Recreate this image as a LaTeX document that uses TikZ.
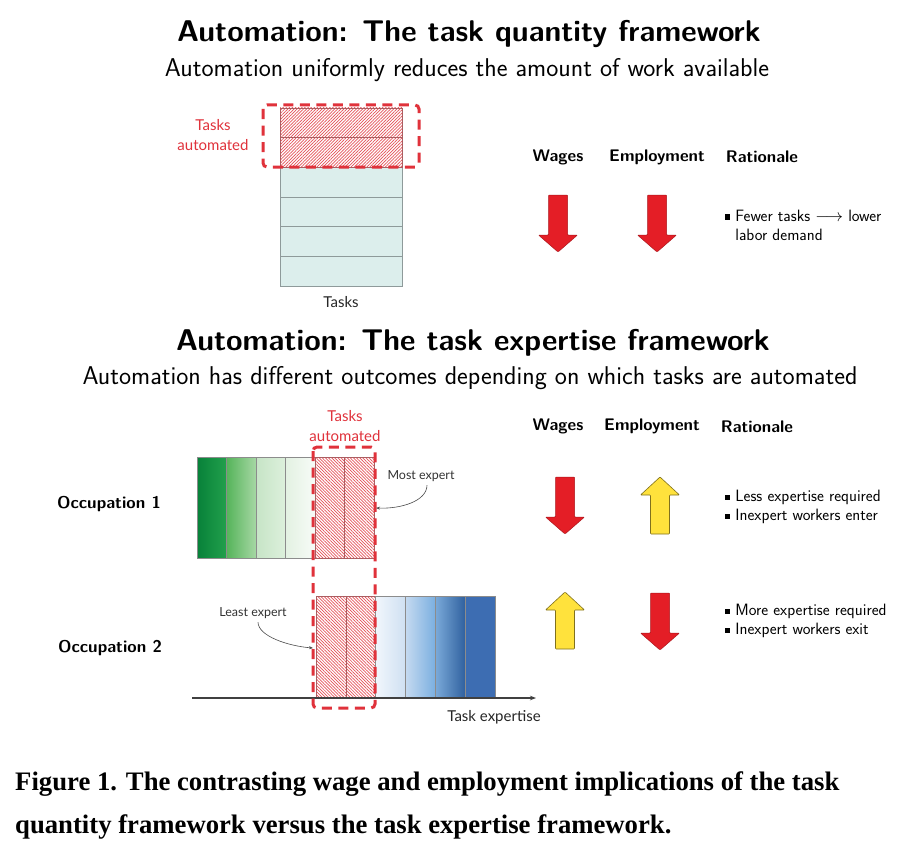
\documentclass[tikz,border=0pt]{standalone}
\usepackage{amsmath}
\usepackage{fontspec}
\newfontfamily\labelfont{Lato}
\newfontfamily\capfont{Liberation Serif}
\usetikzlibrary{arrows.meta}
\usetikzlibrary{patterns.meta}
\usetikzlibrary{positioning}

\definecolor{autored}{HTML}{E0323B}
\definecolor{arrowred}{HTML}{E41E26}
\definecolor{arrowyellow}{HTML}{FFE23C}
\definecolor{taskteal}{HTML}{DCEEEC}
\definecolor{cellgray}{HTML}{8E9A9A}
\definecolor{grnA}{HTML}{078139}
\definecolor{grnB}{HTML}{22A04C}
\definecolor{grnC}{HTML}{55B45A}
\definecolor{grnD}{HTML}{A6D7A4}
\definecolor{grnE}{HTML}{C6E4C6}
\definecolor{grnF}{HTML}{DDF0DC}
\definecolor{grnG}{HTML}{E3F1E2}
\definecolor{grnH}{HTML}{F7FBF7}
\definecolor{bluA}{HTML}{F1F6FC}
\definecolor{bluB}{HTML}{CFE0F2}
\definecolor{bluC}{HTML}{C5DAF0}
\definecolor{bluD}{HTML}{7BAFE0}
\definecolor{bluE}{HTML}{7BAAD9}
\definecolor{bluF}{HTML}{30619F}
\definecolor{bluG}{HTML}{3D6DB2}

\newcommand{\sqbul}{\rule[0.22ex]{0.32em}{0.32em}\hspace{0.3em}}

\tikzset{
	title/.style={font=\sffamily\bfseries\fontsize{30}{34}\selectfont},
	subtitle/.style={font=\sffamily\fontsize{25.7}{29}\selectfont},
	header/.style={font=\sffamily\bfseries\fontsize{16.8}{19}\selectfont},
	reason/.style={font=\sffamily\fontsize{16.4}{19}\selectfont, align=left, anchor=west, inner sep=0},
	small/.style={font=\labelfont\fontsize{12.5}{15}\selectfont, text=black!80},
	bigsmall/.style={font=\labelfont\fontsize{15}{17}\selectfont, text=black!85},
	redlabel/.style={font=\labelfont\fontsize{15}{19.5}\selectfont, text=autored, align=center},
	occ/.style={font=\sffamily\bfseries\fontsize{17}{20}\selectfont},
	taskcell/.style={draw=cellgray, fill=taskteal, line width=0.8},
	upcell/.style={draw=autored!45!gray, line width=0.6,
		pattern={Lines[angle=45,distance=2.2pt,line width=0.7pt]}, pattern color=autored!85},
	downcell/.style={draw=autored!45!gray, line width=0.6,
		pattern={Lines[angle=-45,distance=2.2pt,line width=0.7pt]}, pattern color=autored!85},
	barcell/.style={draw=black!45, line width=0.6},
	autobox/.style={draw=autored, line width=3, dash pattern=on 10 off 6.5, rounded corners=4},
	pointer/.style={draw=black!70, line width=0.6, -{Stealth[length=4pt,width=3pt]}},
	redarrow/.style={fill=arrowred, draw=arrowred!75!black, line width=0.5},
	yellowarrow/.style={fill=arrowyellow, draw=arrowyellow!50!black, line width=0.6},
	downarrow/.pic={
		\path[pic actions, rounded corners=0.8] (-9.5,0) -- (9.5,0) -- (9.5,40) -- (19.5,40)
			-- (0,57) -- (-19.5,40) -- (-9.5,40) -- cycle;
	},
	uparrow/.pic={
		\path[pic actions, rounded corners=0.8] (0,0) -- (19.5,18) -- (9.5,18) -- (9.5,57)
			-- (-9.5,57) -- (-9.5,18) -- (-19.5,18) -- cycle;
	},
}

\begin{document}
\begin{tikzpicture}[x=1pt,y=-1pt]
	\fill[white] (0,0) rectangle (909,848);
	\useasboundingbox (0,0) rectangle (909,848);

	% task quantity framework
	\node[title] (title1) at (469,34) {Automation: The task quantity framework};
	\node[subtitle] (sub1) at (467,70) {Automation uniformly reduces the amount of work available};

	\foreach \i in {2,...,5}
		\draw[taskcell] (280,108+29.7*\i) rectangle (402,137.7+29.7*\i);
	\draw[upcell] (280,108) rectangle (402,137.7);
	\draw[upcell] (280,137.7) rectangle (402,167.4);
	\draw[autobox] (263,105) rectangle (419,167);

	\node[redlabel] (auto1) at (213,135) {Tasks\\automated};
	\node[bigsmall] (tasks) at (341,302) {Tasks};

	\node[header] (wage1) at (558,157) {Wages};
	\node[header] (emp1) at (657,157) {Employment};
	\node[header] (rat1) at (762,157) {Rationale};

	\pic[redarrow] at (558,195) {downarrow};
	\pic[redarrow] at (657,195) {downarrow};
	\node[reason] (why1) at (725,225) {\sqbul Fewer tasks $\longrightarrow$ lower\\\phantom{\sqbul}labor demand};

	% task expertise framework
	\node[title] (title2) at (473,343) {Automation: The task expertise framework};
	\node[subtitle] (sub2) at (470,378) {Automation has different outcomes depending on which tasks are automated};

	\node[redlabel] (auto2) at (345,426) {Tasks\\automated};

	\node[header] (wage2) at (558,426) {Wages};
	\node[header] (emp2) at (652,426) {Employment};
	\node[header] (rat2) at (757,427) {Rationale};

	% occupation 1
	\node[occ] (occ1) at (109,504) {Occupation 1};
	\draw[barcell, left color=grnA, right color=grnB] (197,457) rectangle (226.5,558);
	\draw[barcell, left color=grnC, right color=grnD] (226.5,457) rectangle (256,558);
	\draw[barcell, left color=grnE, right color=grnF] (256,457) rectangle (285.5,558);
	\draw[barcell, left color=grnG, right color=grnH] (285.5,457) rectangle (315,558);
	\draw[downcell] (315,457) rectangle (344.5,558);
	\draw[downcell] (344.5,457) rectangle (374,558);

	% occupation 2
	\node[occ] (occ2) at (110,648) {Occupation 2};
	\draw[downcell] (316,596) rectangle (345.8,698);
	\draw[downcell] (345.8,596) rectangle (375.6,698);
	\draw[barcell, left color=bluA, right color=bluB] (375.6,596) rectangle (405.4,698);
	\draw[barcell, left color=bluC, right color=bluD] (405.4,596) rectangle (435.2,698);
	\draw[barcell, left color=bluE, right color=bluF] (435.2,596) rectangle (465,698);
	\draw[barcell, fill=bluG] (465,596) rectangle (494.8,698);

	\coordinate (axstart) at (192,698);
	\coordinate (axend) at (536,698);
	\draw[black!75, line width=1.1, -{Stealth[length=6pt,width=4.5pt]}] (axstart) -- (axend);
	\node[bigsmall] (expert) at (494,717) {Task expertise};

	\draw[autobox] (313,447) rectangle (375,708);

	\node[small] (mostexp) at (421,476) {Most expert};
	\coordinate (mostend) at (376,508);
	\draw[pointer] ([xshift=6]mostexp.south) .. controls +(0,16) and +(25,1) .. (mostend);

	\node[small] (leastexp) at (253,613) {Least expert};
	\coordinate (leastend) at (313,648);
	\draw[pointer] ([xshift=5]leastexp.south) .. controls +(0,14) and +(-25,-2) .. (leastend);

	\pic[redarrow] at (565,477) {downarrow};
	\pic[yellowarrow] at (660,477) {uparrow};
	\node[reason] (why2) at (725,507) {\sqbul Less expertise required\\\sqbul Inexpert workers enter};

	\pic[yellowarrow] at (565,592) {uparrow};
	\pic[redarrow] at (660,593) {downarrow};
	\node[reason] (why3) at (725,621) {\sqbul More expertise required\\\sqbul Inexpert workers exit};

	% caption
	\node[anchor=north west, align=left, inner sep=0,
		font=\capfont\bfseries\fontsize{26.7}{43}\selectfont] (caption) at (15,771)
		{Figure 1. The contrasting wage and employment implications of the task\\
		quantity framework versus the task expertise framework.};
\end{tikzpicture}
\end{document}
